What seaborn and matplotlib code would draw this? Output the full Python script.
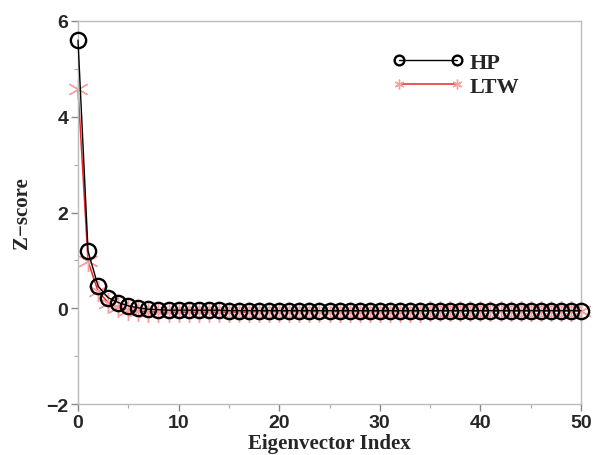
import numpy as np
import pandas as pd
import matplotlib
matplotlib.use("Agg")
import matplotlib.pyplot as plt
import seaborn as sns
from matplotlib.ticker import MultipleLocator

index = list(range(51))
hp = [5.60, 1.19, 0.46, 0.22, 0.12, 0.05, 0.01, -0.02, -0.03, -0.04,
      -0.04, -0.04, -0.04, -0.04, -0.04, -0.05, -0.05, -0.05, -0.05, -0.05,
      -0.05, -0.05, -0.05, -0.05, -0.05, -0.05, -0.05, -0.05, -0.05, -0.05,
      -0.05, -0.05, -0.05, -0.05, -0.05, -0.05, -0.05, -0.05, -0.05, -0.05,
      -0.05, -0.05, -0.05, -0.05, -0.05, -0.05, -0.05, -0.05, -0.05, -0.05, -0.05]
ltw = [4.58, 0.98, 0.35, 0.12, 0.03, -0.03, -0.06, -0.07, -0.08, -0.08,
       -0.08, -0.08, -0.08, -0.08, -0.08, -0.08, -0.08, -0.08, -0.07, -0.07,
       -0.07, -0.07, -0.07, -0.07, -0.07, -0.07, -0.07, -0.07, -0.07, -0.07,
       -0.07, -0.07, -0.07, -0.07, -0.07, -0.06, -0.06, -0.06, -0.06, -0.06,
       -0.06, -0.06, -0.06, -0.06, -0.06, -0.06, -0.06, -0.06, -0.06, -0.06, -0.06]

df = pd.DataFrame({"idx": index, "HP": hp, "LTW": ltw})

sns.set_style("white")
fig = plt.figure(figsize=(5.93, 4.56), dpi=100)
ax = fig.add_axes([78/593, 1-405/456, (581-78)/593, (405-22)/456])

sns.lineplot(data=df, x="idx", y="LTW", ax=ax, color="#e8262a", linewidth=1.1,
             marker=(6, 2, 0), markersize=15, markeredgecolor="#f7a0a0",
             markeredgewidth=1.0, label="LTW", zorder=2, clip_on=False)
sns.lineplot(data=df, x="idx", y="HP", ax=ax, color="black", linewidth=1.0,
             marker="o", markersize=11, markerfacecolor="none",
             markeredgecolor="black", markeredgewidth=1.7, label="HP", zorder=3,
             clip_on=False)

ax.set_xlim(0, 50)
ax.set_ylim(-2, 6)
ax.xaxis.set_major_locator(MultipleLocator(10))
ax.xaxis.set_minor_locator(MultipleLocator(5))
ax.yaxis.set_major_locator(MultipleLocator(2))
ax.yaxis.set_minor_locator(MultipleLocator(1))
for s in ax.spines.values():
    s.set_color("#bbbbbb")
    s.set_linewidth(1.0)
ax.tick_params(which="major", direction="out", length=5, width=1, color="#888888",
               bottom=True, left=True, top=False, right=False, pad=2)
ax.tick_params(which="minor", direction="out", length=3, width=0.8, color="#aaaaaa",
               bottom=True, left=True)
for lab in ax.get_xticklabels() + ax.get_yticklabels():
    lab.set_fontfamily("Liberation Sans")
    lab.set_fontweight("bold")
    lab.set_fontsize(14)
ax.set_xlabel("Eigenvector Index", fontfamily="Liberation Serif", fontweight="bold",
              fontsize=15, labelpad=2)
ax.set_ylabel("Z\u2212score", fontfamily="Liberation Serif", fontweight="bold",
              fontsize=15, labelpad=10)

handles, labels = ax.get_legend_handles_labels()
order = [labels.index("HP"), labels.index("LTW")]
leg = ax.legend([handles[i] for i in order], [labels[i] for i in order],
                loc="upper left", bbox_to_anchor=(0.585, 0.97), frameon=False,
                numpoints=2, handlelength=3.2, handletextpad=0.3, labelspacing=0.15,
                prop={"family": "Liberation Serif", "weight": "bold", "size": 16})
for h in leg.legend_handles:
    h.set_markersize(7)
    h.set_clip_on(False)

fig.savefig("out.png", dpi=100)
